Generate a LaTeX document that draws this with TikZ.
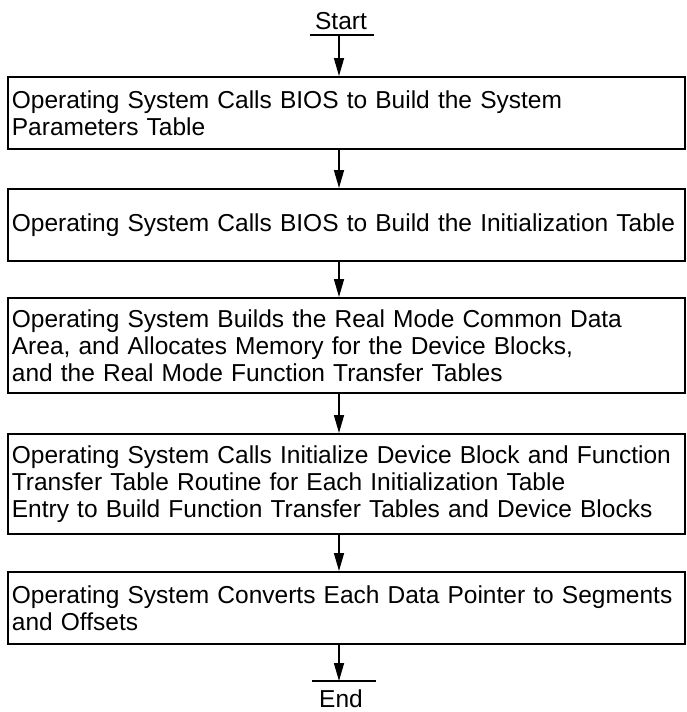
\documentclass[tikz,border=0pt]{standalone}
\usepackage{fontspec}
\setmainfont{Liberation Sans}
\usetikzlibrary{arrows.meta}
\begin{document}
\begin{tikzpicture}[x=1pt,y=-1pt,
  every node/.style={font=\fontsize{24.5}{27}\selectfont},
  box/.style={draw, line width=1.8pt, minimum width=677pt, text width=669pt,
    inner xsep=4pt, inner ysep=0pt, align=left, anchor=north west,
    execute at begin node={\hyphenpenalty=10000\exhyphenpenalty=10000}},
  flow/.style={line width=1.5pt, -{Triangle[length=18pt,width=10pt]}},
  bar/.style={line width=1.5pt}]
\useasboundingbox (0,0) rectangle (686,712);

% terminal: start
\node[anchor=base, inner sep=0pt] (start) at (341,29) {Start};
\coordinate (sl) at (310,35);
\coordinate (sr) at (374,35);
\coordinate (sbar) at (339,35);
\draw[bar] (sl) -- (sr);

% process steps
\node[box, minimum height=72pt] (b1) at (7,76)
  {Operating System Calls BIOS to Build the System\\Parameters Table};
\node[box, minimum height=72pt] (b2) at (7,188)
  {Operating System Calls BIOS to Build the Initialization Table};
\node[box, minimum height=95pt] (b3) at (7,297)
  {Operating System Builds the Real Mode Common Data\\Area, and Allocates Memory for the Device Blocks,\\and the Real Mode Function Transfer Tables};
\node[box, minimum height=100pt] (b4) at (7,433)
  {Operating System Calls Initialize Device Block and Function\\Transfer Table Routine for Each Initialization Table\\Entry to Build Function Transfer Tables and Device Blocks};
\node[box, minimum height=72pt] (b5) at (7,571)
  {Operating System Converts Each Data Pointer to Segments\\and Offsets};

% terminal: end
\coordinate (el) at (312,681);
\coordinate (er) at (376,681);
\coordinate (ebar) at (339,681);
\draw[bar] (el) -- (er);
\node[anchor=base, inner sep=0pt] (end) at (341,707) {End};

% flow arrows
\draw[flow] (sbar) -- (b1.north -| sbar);
\draw[flow] (b1.south -| sbar) -- (b2.north -| sbar);
\draw[flow] (b2.south -| sbar) -- (b3.north -| sbar);
\draw[flow] (b3.south -| sbar) -- (b4.north -| sbar);
\draw[flow] (b4.south -| sbar) -- (b5.north -| sbar);
\draw[flow] (b5.south -| sbar) -- (ebar);
\end{tikzpicture}
\end{document}
